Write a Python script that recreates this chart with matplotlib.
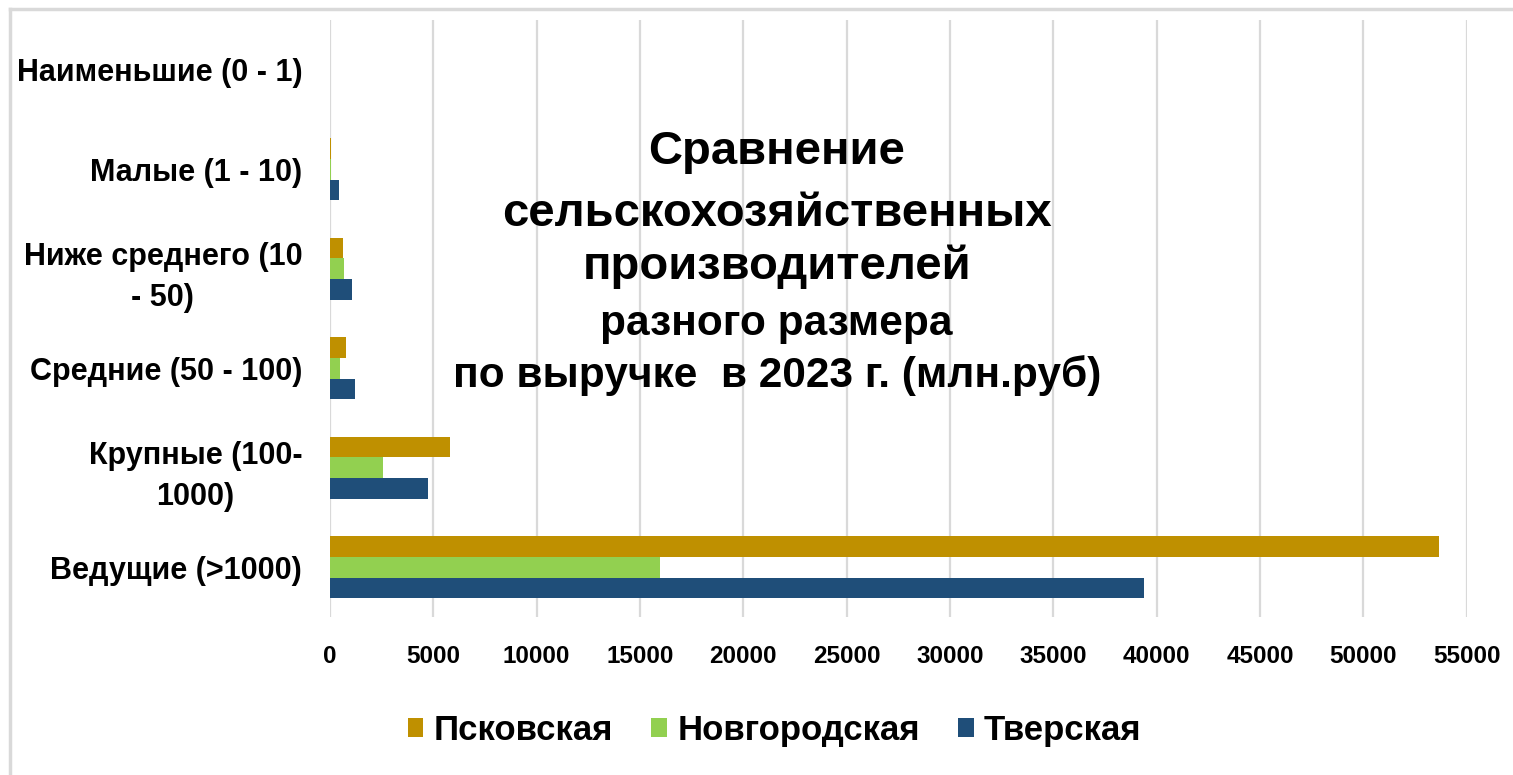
import matplotlib
matplotlib.use("Agg")
import matplotlib.pyplot as plt
import numpy as np
from matplotlib.lines import Line2D

# categories from bottom to top
categories = ["Ведущие (>1000)", "Крупные (100-\n1000)", "Средние (50 - 100)",
              "Ниже среднего (10\n- 50)", "Малые (1 - 10)", "Наименьшие (0 - 1)"]
pskov = [53650, 5800, 780, 610, 60, 5]
novgorod = [15950, 2580, 480, 690, 40, 3]
tver = [39400, 4730, 1190, 1050, 420, 8]
series_names = ["Псковская", "Новгородская", "Тверская"]
colors = ["#BF9000", "#92D050", "#1F4E79"]
xticks = list(range(0, 55001, 5000))

plt.rcParams['font.family'] = ['Liberation Sans', 'DejaVu Sans']

fig = plt.figure(figsize=(15.13, 7.75), dpi=100)
ax = fig.add_axes([0.2181, 0.2039, 0.7513, 0.7703])

y = np.arange(len(categories))
h = 0.208
for vals, off, col, name in zip([pskov, novgorod, tver], [h, 0, -h], colors, series_names):
    ax.barh(y + off, vals, height=h, color=col, label=name, zorder=3)

ax.set_ylim(-0.5, len(categories) - 0.5)
ax.set_xlim(0, 55000)
ax.set_xticks(xticks)
ax.set_xticklabels([str(t) for t in xticks], fontsize=17.5, fontweight='bold')
ax.set_yticks(y)
ax.set_yticklabels(categories, fontsize=22, fontweight='bold', multialignment='center',
                   linespacing=1.45)
ax.tick_params(axis='both', length=0)
ax.tick_params(axis='x', pad=20)
ax.tick_params(axis='y', pad=20)
for s in ax.spines.values():
    s.set_visible(False)
ax.grid(axis='x', color='#d9d9d9', linewidth=1.6, zorder=0)

# title inside the plot
title_big = ["Сравнение", "сельскохозяйственных", "производителей"]
title_small = ["разного размера", "по выручке  в 2023 г. (млн.руб)"]
for txt, yy in zip(title_big, [0.779, 0.675, 0.586]):
    ax.text(0.393, yy, txt, transform=ax.transAxes, ha='center', va='center',
            fontsize=34, fontweight='bold')
for txt, yy in zip(title_small, [0.491, 0.404]):
    ax.text(0.393, yy, txt, transform=ax.transAxes, ha='center', va='center',
            fontsize=30.5, fontweight='bold')

fig.legend(loc='center', bbox_to_anchor=(0.512, 0.058), ncol=3, frameon=False,
           prop={'size': 25, 'weight': 'bold'}, handlelength=0.45, handleheight=0.45,
           handletextpad=0.3, columnspacing=1.1)

# light frame on top and left
fig.add_artist(Line2D([0.0066, 1.0], [0.9884, 0.9884], color='#d9d9d9', linewidth=2.5,
                      transform=fig.transFigure))
fig.add_artist(Line2D([0.0066, 0.0066], [0.0, 0.9884], color='#d9d9d9', linewidth=2.5,
                      transform=fig.transFigure))

fig.savefig("out.png", dpi=100, facecolor='white')
